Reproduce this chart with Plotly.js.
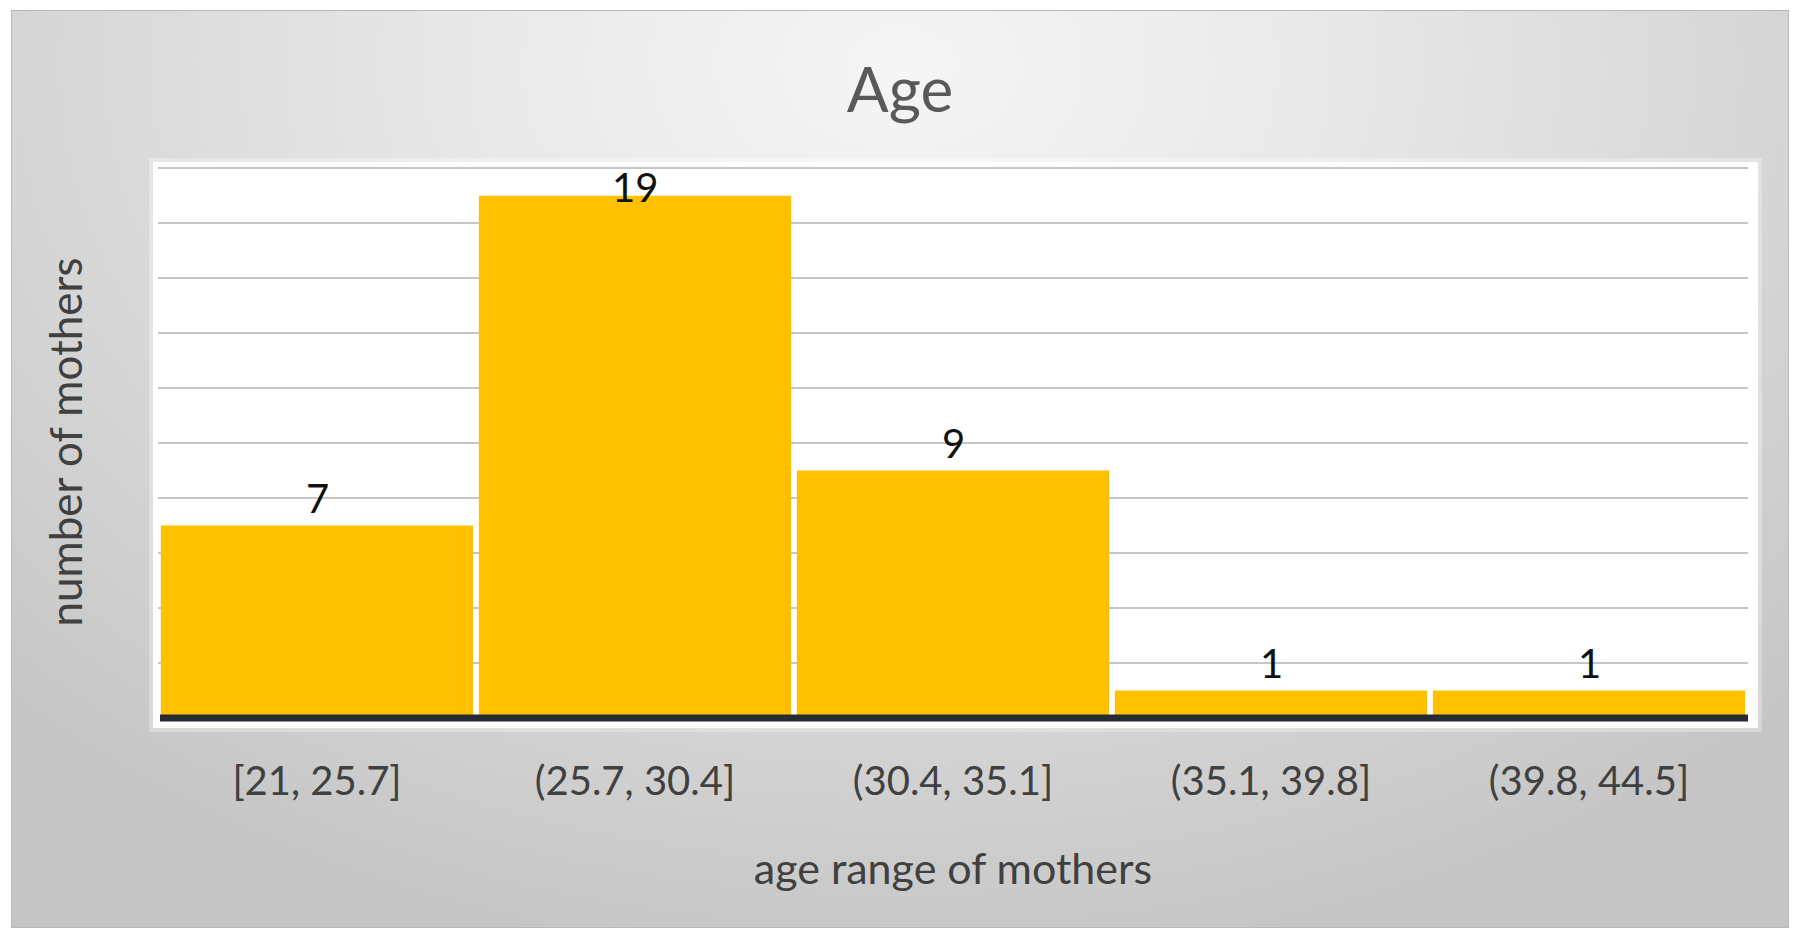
<!DOCTYPE html>
<html>
<head>
<meta charset="utf-8">
<script src="https://cdn.plot.ly/plotly-3.0.1.min.js"></script>
<style>
  html, body { margin: 0; padding: 0; background: #ffffff; }
  #wrap { position: relative; width: 1800px; height: 940px; overflow: hidden; }
  #frame {
    position: absolute; left: 11px; top: 10px; width: 1776px; height: 916px;
    border: 1px solid #b8b8b8;
    background: radial-gradient(ellipse 72% 100% at 50% 6%, #f5f5f5 0%, #e9e9e9 32%, #d6d6d6 68%, #c5c5c5 100%);
  }
  #chart { position: absolute; left: 0; top: 0; width: 1800px; height: 940px; }
</style>
</head>
<body>
<div id="wrap">
  <div id="frame"></div>
  <div id="chart"></div>
</div>
<script>
// ---- data ----
const categories = ['[21, 25.7]', '(25.7, 30.4]', '(30.4, 35.1]', '(35.1, 39.8]', '(39.8, 44.5]'];
const counts = [7, 19, 9, 1, 1];
const yMax = 20;
const yStep = 2;
const chartTitle = 'Age';
const xTitle = 'age range of mothers';
const yTitle = 'number of mothers';

// ---- layout geometry ----
const W = 1800, H = 940;
const margin = { l: 158, r: 52, t: 166, b: 222 };
const yTop = yMax + 0.08;              // tiny headroom so the top gridline is drawn
const plotW = W - margin.l - margin.r;
const plotH = H - margin.t - margin.b;
const pxPerUnit = plotH / yTop;
const FONT = 'Lato, "Open Sans", sans-serif';

// data labels placed above each bar, kept inside the plot area (Excel style)
const labelGap = 28;   // px between bar top and label centre
const labelHalf = 20;
const topPx = yMax * pxPerUnit;
const annotations = counts.map((v, i) => {
  let c = v * pxPerUnit + labelGap;
  if (c + labelHalf > topPx) c = topPx - 19;
  return {
    x: categories[i], y: c / pxPerUnit, xref: 'x', yref: 'y',
    text: String(v), showarrow: false, yanchor: 'middle', xanchor: 'center',
    font: { family: FONT, size: 40, color: '#111111' }
  };
});

const px = (p) => (p - margin.l) / plotW;          // pixel x -> paper x
const py = (p) => (H - margin.b - p) / plotH;       // pixel y -> paper y

const shapes = [
  { type: 'rect', xref: 'paper', yref: 'paper', layer: 'below',
    x0: px(149), x1: px(1762), y0: py(732), y1: py(158),
    fillcolor: 'rgba(255,255,255,0.3)', line: { width: 0 } },
  { type: 'rect', xref: 'paper', yref: 'paper', layer: 'below',
    x0: px(153), x1: px(1758), y0: py(728), y1: py(162),
    fillcolor: '#ffffff', line: { width: 0 } },
  { type: 'line', xref: 'paper', yref: 'paper', layer: 'above',
    x0: px(160), x1: px(1748), y0: 0, y1: 0,
    line: { color: '#262b33', width: 7 } }
];

const trace = {
  type: 'bar',
  x: categories,
  y: counts,
  marker: { color: '#FFC000', line: { width: 0 } },
  hoverinfo: 'x+y'
};

const layout = {
  width: W, height: H,
  margin: margin,
  paper_bgcolor: 'rgba(0,0,0,0)',
  plot_bgcolor: 'rgba(0,0,0,0)',
  bargap: 0.018,
  showlegend: false,
  title: {
    text: chartTitle,
    x: 0.5, xref: 'container', xanchor: 'center',
    y: 1 - 90 / H, yref: 'container', yanchor: 'middle',
    font: { family: FONT, size: 62, color: '#595959' }
  },
  xaxis: {
    type: 'category',
    showgrid: false, zeroline: false, showline: false,
    ticks: '',
    ticklabelstandoff: 36,
    tickfont: { family: FONT, size: 40, color: '#404040' },
    title: { text: xTitle, standoff: 50, font: { family: FONT, size: 43, color: '#404040' } },
    automargin: false
  },
  yaxis: {
    range: [0, yTop], dtick: yStep, tick0: 0,
    showgrid: true, gridcolor: '#c6c6c6', gridwidth: 2,
    zeroline: false, showline: false,
    showticklabels: false, ticks: '',
    title: { text: yTitle, standoff: 60, font: { family: FONT, size: 44, color: '#404040' } },
    automargin: false
  },
  shapes: shapes,
  annotations: annotations
};

Plotly.newPlot('chart', [trace], layout, { displayModeBar: false, staticPlot: true });
</script>
</body>
</html>
